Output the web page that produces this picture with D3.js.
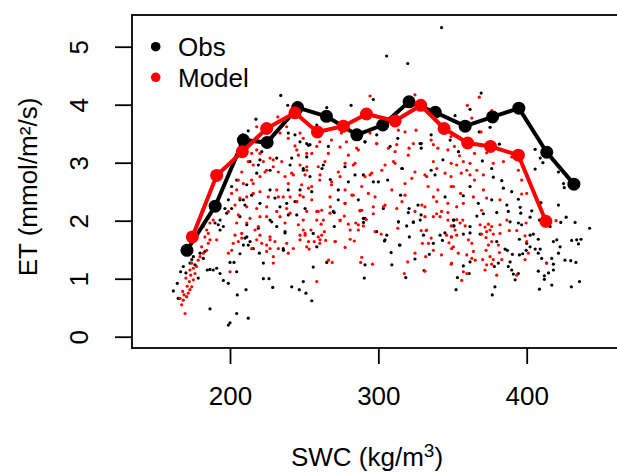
<!DOCTYPE html>
<html>
<head>
<meta charset="utf-8">
<script src="https://cdn.jsdelivr.net/npm/d3@7"></script>
<style>
  body { margin: 0; background: #fff; }
  svg text { font-family: "Liberation Sans", Arial, Helvetica, sans-serif; }
</style>
</head>
<body>
<svg id="chart" width="617" height="473"></svg>
<script>
// binned means (SWC, ET)
const obsLineX = [171, 190, 209, 225, 245.6, 265, 285.5, 303, 320.7, 338.4, 358.5, 377, 394.7, 413.5, 431.8]
const obsLineY = [1.49, 2.25, 3.39, 3.35, 3.95, 3.80, 3.48, 3.65, 4.05, 3.87, 3.63, 3.79, 3.94, 3.18, 2.63]
const modLineX = [174.6, 191, 208.3, 224.7, 243.8, 258.9, 276.4, 292, 311.3, 328.6, 344.3, 360.2, 375.6, 394.4, 412.9]
const modLineY = [1.72, 2.78, 3.19, 3.59, 3.86, 3.53, 3.63, 3.84, 3.72, 3.99, 3.59, 3.34, 3.28, 3.13, 1.99]

// raw half-hourly points [SWC, ET]
const obsPts = [
  [161.8,0.79],[164.5,0.92],[165.1,0.66],[166.7,1.12],[168.5,1.21],[170.3,1.10],[173,1.27],[174.2,1.33],[175.3,1.38],[176.4,1.24],
  [178.6,1.01],[179.8,1.44],[182,1.35],[183.1,1.47],[184.7,1.15],[186.5,1.16],[188.7,1.15],[191,1.18],[193.3,1.09],[195.5,0.97],
  [198.9,0.92],[200,1.28],[202.7,1.28],[204.5,1.12],[186.5,0.48],[198.9,0.20],[200,0.24],[204.5,0.40],[212.3,0.32],[210.8,0.81],
  [204.9,0.72],[222.5,1.0],[226.3,1.0],[228.8,0.85],[222.5,1.27],[219.8,1.44],[215.7,1.52],[212.3,1.58],[210.1,1.70],[213.5,1.64],
  [211.3,1.93],[193.3,2.01],[192.1,1.93],[195.5,1.90],[189.9,1.96],[206.7,1.43],[237.1,1.79],[241.6,0.86],[246.7,0.81],[251.2,0.75],
  [249.4,0.95],[239.3,2.10],[245,2.10],[227,2.01],[231.5,1.90],[193.3,1.84],[197.8,2.13],[206.7,2.07],[209,1.58],[236,1.49],
  [234.2,4.16],[238.9,3.99],[217.5,3.75],[212.3,3.55],[208.6,3.48],[211.3,3.33],[221.4,3.19],[220.2,3.05],[213.5,3.02],[204.5,2.70],
  [201.1,2.59],[198.9,2.36],[206.7,2.36],[211.3,2.62],[218,2.82],[219.1,2.96],[227,2.87],[231.5,3.08],[239.3,3.51],[243.8,3.48],
  [247.2,3.36],[251.7,3.33],[241.6,3.08],[240.5,2.96],[249.4,2.87],[251.7,3.10],[239.3,2.53],[247.2,2.53],[238.2,2.30],[245,2.33],
  [250.6,2.21],[227,2.53],[214.6,2.44],[210.1,2.27],[201.1,2.21],[230.3,2.39],[233.7,2.24],[220.2,2.30],[196.6,2.21],
  [265.2,3.95],[281.6,3.99],[296.6,4.09],[258.5,3.65],[252.9,3.30],[262,2.90],[267.6,2.71],[273,2.53],[279.8,2.67],[284.3,2.79],
  [286.5,2.36],[296.6,2.67],[291,3.36],[298.9,3.48],[306.3,2.70],[315,2.44],[316.2,2.90],[320.7,2.21],[313.1,3.42],[328.9,3.33],
  [328.9,3.25],[335.6,3.48],[335.6,2.87],[343.5,3.05],[348.4,3.39],[345,2.41],[326.7,2.27],[303.4,2.21],[273,2.36],[253.9,2.76],
  [255.1,2.50],[342.6,5.33],[305.6,4.84],[319.8,4.71],[369.3,4.20],
  [270.3,2.14],[270.3,1.90],[256.1,1.78],[258.5,1.55],[265.2,1.28],[256.1,1.20],[255.1,0.62],[287.7,2.17],[290,1.97],[291,2.04],
  [305.7,1.75],[304.1,1.65],[308.6,1.45],[309.1,1.24],[291,1.24],[290.5,1.01],[314.2,1.58],[313.5,1.98],[320.2,2.14],[319.1,1.91],
  [320.9,1.72],[323.6,1.97],[328.8,2.10],[328.2,2.01],[330.4,1.75],[337.1,1.61],[334.4,1.42],[324.7,1.34],[330.8,1.14],[318.5,1.02],
  [341.6,1.75],[343.2,1.66],[344.9,1.79],[350.6,2.01],[350.6,1.91],
  [361.8,3.92],[351.7,3.81],[375.3,3.61],[368,3.53],[354,3.19],[381.6,3.32],[370.1,3.03],[376.4,2.90],[377.5,2.75],[383.2,2.69],
  [384.3,2.56],[389.9,2.50],[394.4,2.37],[395.6,2.23],[405.7,3.23],[409.1,3.08],[410.9,3.00],[405.7,2.89],[421.4,2.84],[424.8,2.64],
  [425.3,2.57],[409.6,2.31],[421.4,2.27],[361.8,2.59],[357.3,2.43],[386.6,2.27],[376.4,2.36],[367.4,2.30],
  [366.4,2.08],[370.8,2.12],[379.8,2.14],[387.6,2.16],[396,2.13],[403.4,2.17],[402.3,2.06],[408.6,2.01],[415.8,1.90],[423,1.97],
  [426.6,2.06],[432.6,1.97],[442.4,1.87],[388.8,1.98],[394.4,1.96],[396.6,1.93],[351,1.91],[357.3,1.77],[361.8,1.79],[368.6,1.77],
  [402.3,1.75],[404.5,1.77],[407.8,1.68],[395.1,1.68],[400,1.61],[418,1.64],[420.3,1.67],[422.5,1.55],[430.3,1.66],[433.7,1.67],
  [436.6,1.68],[434.9,1.60],[402.3,1.55],[405.7,1.51],[409.1,1.51],[399.6,1.49],[397.3,1.43],[395.1,1.41],[407.8,1.44],[410.1,1.35],
  [421.4,1.44],[416.9,1.35],[418,1.25],[425.8,1.32],[429.7,1.31],[433.2,1.28],[413.4,1.27],[418,1.15],[414.7,1.10],[407.8,1.13],
  [411.9,1.05],[411.9,0.99],[416.9,0.89],[408.6,0.82],[430.1,0.86],[435.6,0.95],[390.4,1.42],[388.8,1.29],[387.6,1.21],[389.9,1.15],
  [394.4,1.09],[392.2,0.98],[391,1.08],[379.8,1.64],[385.4,1.51],[387,1.49],[380.9,1.27],[378.2,1.21],[378.6,0.86],[376.8,0.72],
  [361.8,1.29],[361.3,1.09],[357.3,1.22],[353.3,1.02],[352.4,0.81],[351,2.01],[361.8,1.90],
  [253.9,3.31],[266.3,3.28],[291,3.36],[307.9,3.28],[328.1,3.33],[249.4,2.90],[262.9,2.96],[277.5,2.93],[289.9,2.79],[300,2.67],
  [315.8,2.90],[338.2,2.79],[243.8,2.33],[269.7,2.16],[289.9,2.04],[298.9,1.81],[313.5,1.98],[323.6,1.98],[304.5,1.67],[314.6,1.58],
  [237.1,1.81],[235.9,1.52],[209,2.36],[219.1,1.87],[228.1,1.98],[211.3,1.72]
]

const modPts = [
  [169.7,0.40],[167.4,0.55],[168.5,0.63],[170.8,0.69],[171.9,0.75],[173,0.81],[169,0.72],[174.2,0.86],[172.6,0.95],[175.3,0.98],
  [166.3,0.66],[168.1,0.78],[171.2,0.87],[170.3,1.01],[173.5,1.06],[176.4,1.09],[173,1.15],[175.3,1.18],[177.5,1.21],[174.2,1.27],
  [178.6,1.32],[179.8,1.38],[182,1.44],[184.3,1.49],[180.9,1.55],[185.4,1.61],[186.5,1.67],[183.1,1.72],[184.3,1.84],[186.5,1.96],
  [188.7,2.01],[182,1.90],[185.4,1.78],[191,1.67],[200,1.12],[198.9,1.44],[201.1,1.49],[202.2,1.61],[205.6,1.64],[207.9,1.70],
  [203.4,1.75],[207.9,1.78],[211.3,1.96],[213.5,2.04],[216.9,1.84],[219.1,1.90],[220.2,1.75],[218,1.67],[221.4,1.61],[224.7,1.58],
  [227,1.72],[230.3,1.64],[232.6,1.52],[229.2,1.38],[229.2,1.27],[238.2,1.61],[239.3,1.44],[242.7,1.52],[247.2,1.75],[250.6,1.78],
  [251.7,1.55],[233.7,2.07],[237.1,1.96],[224.7,2.07],[246.1,1.93],[249.4,2.01],[251.7,2.16],[205.6,2.10],[204.5,1.96],[214.6,1.52],
  [224.7,1.47],[227,1.52],
  [232.2,3.79],[238.2,3.62],[218,3.62],[233.7,3.51],[247.2,3.51],[249.4,3.42],[239.3,3.42],[218,3.22],[214.6,3.16],[212.3,3.02],
  [215.7,2.96],[222.5,3.02],[227,3.08],[223.6,2.84],[229.2,2.93],[232.6,2.84],[234.9,3.02],[245,3.22],[246.1,3.13],[251.7,3.16],
  [247.2,2.96],[237.1,2.76],[242.7,2.79],[250.6,2.79],[239.3,2.64],[248.3,2.62],[207.9,2.84],[205.6,2.70],[209,2.64],[214.6,2.70],
  [220.2,2.76],[204.5,2.53],[201.1,2.47],[206.7,2.39],[211.3,2.41],[215.7,2.47],[220.2,2.50],[225.8,2.41],[231.5,2.53],[232.6,2.41],
  [240.5,2.41],[245,2.33],[249.4,2.41],[238.2,2.21],[203.4,2.27],[198.9,2.16],[224.7,2.24],[218,2.21],[231.5,2.16],
  [294.4,4.15],[324.7,4.17],[368,4.13],
  [260.5,3.36],[268.4,3.39],[275.1,3.51],[278.5,3.36],[286.5,3.22],[294.4,3.51],[298.9,3.33],[306.8,3.25],[313.5,3.56],[318,3.53],
  [311.3,3.19],[320.7,3.25],[325.4,3.56],[335.6,3.39],[340.1,3.25],[346.9,3.22],[349.1,2.99],[345,2.82],[337.1,3.02],[331.4,2.79],
  [333.6,2.59],[340.1,2.53],[349.1,2.59],[346.9,2.30],[339.3,2.33],[331.4,2.24],[318,2.64],[322.5,2.73],[310.2,3.02],[302.3,2.87],
  [295.5,2.82],[291,2.76],[288.8,2.59],[283.1,2.96],[277.6,2.99],[273,2.84],[264,3.02],[259.5,2.93],[255.1,3.16],[251.7,2.87],
  [266.3,3.16],[279.8,3.13],[260.5,2.70],[268.4,2.62],[277.6,2.53],[282.1,2.44],[293.3,2.47],[297.8,2.41],[309.1,2.53],[315.9,2.33],
  [277.6,2.30],[267.6,2.24],[259.5,2.16],[252.9,2.56],[255.1,2.36],[288.8,2.18],[304.5,2.27],[324.7,2.16],[342.6,2.16],
  [250.6,1.75],[254.6,1.84],[252.9,1.64],[253.3,1.51],[256.8,1.64],[259.5,1.72],[261.8,1.75],[260.5,1.61],[263.6,1.81],[264.5,1.66],
  [261.4,1.94],[262.9,2.01],[267.4,2.13],[258.5,2.16],[271,1.64],[266.4,1.32],[268.9,1.28],[258.5,0.95],[274.2,2.00],[277.1,2.08],
  [279.8,1.94],[281,1.68],[283.8,1.65],[277.6,1.54],[284.8,1.96],[286.5,1.84],[289.9,1.91],[291.8,2.02],[297.8,1.81],[301.9,1.77],
  [296.6,2.12],[288.8,1.37],[288.1,1.28],[296.1,1.25],[313.1,1.87],[317.5,1.09],[319.8,1.29],[324.7,1.44],[331.4,1.13],[331.9,1.38],
  [329.7,1.61],[333.8,1.61],[337.1,1.49],[335.6,1.70],[332.2,1.83],[328.9,1.83],[331.4,2.07],[337.1,2.07],[339.3,2.12],[341.6,2.07],
  [346.9,2.14],[346.9,2.01],[349.1,1.91],[346,1.75],[349.1,1.72],[347.6,1.62],[350.6,1.55],[342.6,1.41],[349.1,1.25],
  [360,3.99],[363,3.77],[376.4,3.90],[369.2,3.53],[349,3.45],[351.3,3.28],[364.8,3.16],[354.7,3.12],[373,3.17],[384.3,3.02],
  [377.5,2.99],[357.3,3.02],[352.8,2.96],[361.8,2.99],[359.6,2.87],[361.8,2.79],[366.4,2.87],[370.8,2.79],[364.8,2.70],[349,2.76],
  [355.9,2.82],[350.6,2.59],[355.4,2.47],[370.8,2.53],[373,2.39],[364.1,2.41],[357.3,2.30],[382,2.36],[389.9,3.10],[394.4,2.87],
  [396.6,2.70],[396.6,2.46],[400,2.47],[369.6,2.18],[352.8,2.24],
  [352.8,2.02],[356.9,2.01],[355.1,1.96],[358.5,1.91],[351.7,1.84],[349.4,1.72],[352.8,1.75],[360.7,1.67],[363,1.61],[349.4,1.52],
  [353.9,1.44],[349.4,1.27],[359.6,1.41],[364.1,1.47],[363,1.35],[365.3,1.32],[357.3,1.12],[359.6,1.09],[356.2,0.97],[368.6,1.93],
  [371.9,1.89],[374.2,1.94],[376.4,1.90],[375.3,1.84],[373,1.81],[369.6,1.77],[377.5,1.77],[372.6,1.71],[376.4,1.64],[374.2,1.58],
  [380.9,1.58],[382,1.78],[382,1.93],[386.6,2.01],[388.3,1.83],[372.6,1.49],[375.3,1.38],[377.5,1.33],[370.3,1.33],[371.9,1.15],
  [373,1.24],[376.4,1.25],[379.8,1.06],[383.2,1.33],[381.6,1.45],[393.3,1.06],[398.9,1.74],[400,1.64],[401.1,1.44],[398.9,1.33],
  [399.6,1.96],[413.4,1.27],[419.8,2.00],[393.3,1.83],
  [243.8,3.29],[258.5,3.28],[274.2,3.27],[285.4,3.25],[298.9,3.33],[312.4,3.31],[323.6,3.33],[337.1,3.31],[241.6,2.82],[251.7,2.93],
  [260.7,2.79],[268.5,2.67],[274.2,2.76],[284.3,2.99],[294.4,2.79],[304.5,2.96],[311.3,2.99],[320.2,3.13],[324.7,2.84],[332.6,2.76],
  [339.4,2.90],[247.2,2.44],[255.1,2.59],[267.4,2.41],[277.5,2.30],[283.1,2.44],[287.7,2.18],[261.8,2.18],[258.5,2.01],[274.2,2.01],
  [281,1.84],[286.5,1.93],[296.6,2.24],[303.4,2.24],[312.4,2.21],[318,2.44],[329.3,2.27],[337.1,2.41],[332.6,1.84],[249.4,1.84],
  [247.2,1.67],[260.7,1.67],[270.8,1.64],[211.3,2.24],[220.2,2.07],[227,1.67],[215.7,2.64],[224.7,2.87],[229.2,3.05],[220.2,3.16],
  [235.9,2.41],[240.5,2.13]
]

const xTicks = [200, 300, 400]
const yTicks = [0, 1, 2, 3, 4, 5]

const svg = d3.select("#chart")
const fs = 26

// scales
const x = d3.scaleLinear().domain([200, 400]).range([230, 526.7])
const y = d3.scaleLinear().domain([0, 5]).range([336.7, 46.7])

// plot box (right side runs off the picture)
svg.append("rect")
    .attr("x", 132).attr("y", 15)
    .attr("width", 620).attr("height", 333)
    .attr("fill", "none")
    .attr("stroke", "#000")
    .attr("stroke-width", 1.8)

// y axis, R style vertical labels
let yAxis = svg.append("g")
    .attr("transform", "translate(132,0)")
    .call(d3.axisLeft(y).tickValues(yTicks).tickSize(17).tickFormat(d3.format("d")))
yAxis.select(".domain").remove()
yAxis.selectAll("line").attr("stroke-width", 1.8)
yAxis.selectAll("text")
    .attr("x", 0).attr("y", -44).attr("dy", 0)
    .attr("text-anchor", "middle")
    .attr("transform", "rotate(-90)")
    .attr("font-size", fs)
    .attr("fill", "#000")

// x axis
let xAxis = svg.append("g")
    .attr("transform", "translate(0,348)")
    .call(d3.axisBottom(x).tickValues(xTicks).tickSize(16).tickFormat(d3.format("d")))
xAxis.select(".domain").remove()
xAxis.selectAll("line").attr("stroke-width", 1.8)
xAxis.selectAll("text")
    .attr("y", 57).attr("dy", 0)
    .attr("font-size", fs)
    .attr("fill", "#000")

// scatter points
svg.append("g").selectAll("circle")
    .data(obsPts)
    .join("circle")
    .attr("cx", d => x(d[0]))
    .attr("cy", d => y(d[1]))
    .attr("r", 1.6)
    .attr("fill", "#000")

svg.append("g").selectAll("circle")
    .data(modPts)
    .join("circle")
    .attr("cx", d => x(d[0]))
    .attr("cy", d => y(d[1]))
    .attr("r", 1.6)
    .attr("fill", "#ff0000")

// binned lines
const series = [
    { xs: obsLineX, ys: obsLineY, col: "#000" },
    { xs: modLineX, ys: modLineY, col: "#ff0000" }
]
const line = d3.line().x(d => x(d[0])).y(d => y(d[1]))
series.forEach(s => {
    let pts = s.xs.map((v, i) => [v, s.ys[i]])
    svg.append("path")
        .attr("d", line(pts))
        .attr("fill", "none")
        .attr("stroke", s.col)
        .attr("stroke-width", 4)
        .attr("stroke-linejoin", "round")
    svg.append("g").selectAll("circle")
        .data(pts)
        .join("circle")
        .attr("cx", d => x(d[0]))
        .attr("cy", d => y(d[1]))
        .attr("r", 6.5)
        .attr("fill", s.col)
})

// legend
const legend = [["Obs", "#000"], ["Model", "#ff0000"]]
legend.forEach((l, i) => {
    svg.append("circle")
        .attr("cx", 155.7).attr("cy", 46.7 + i * 30.6)
        .attr("r", 4.8).attr("fill", l[1])
    svg.append("text")
        .attr("x", 178).attr("y", 56 + i * 30.6)
        .attr("font-size", fs)
        .text(l[0])
})

// axis titles
svg.append("text")
    .attr("transform", "translate(37,187) rotate(-90)")
    .attr("text-anchor", "middle")
    .attr("font-size", fs)
    .text("ET (mmol/m²/s)")

let xt = svg.append("text")
    .attr("x", 367).attr("y", 466)
    .attr("text-anchor", "middle")
    .attr("font-size", fs)
xt.append("tspan").text("SWC (kg/m")
xt.append("tspan").attr("font-size", 19).attr("dy", -9).text("3")
xt.append("tspan").attr("dy", 9).text(")")
</script>
</body>
</html>
